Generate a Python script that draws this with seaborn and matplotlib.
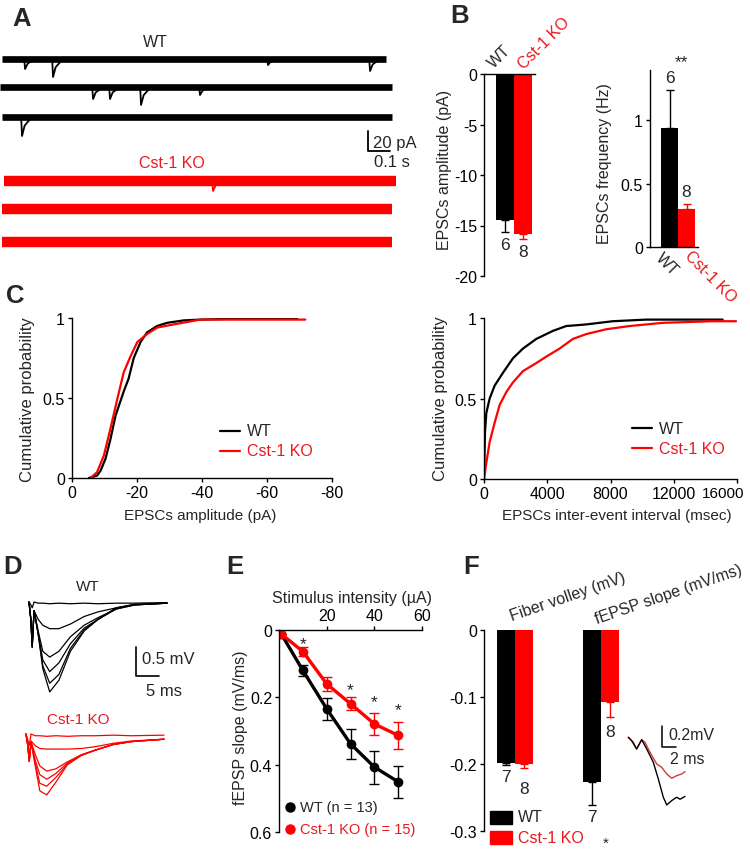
import matplotlib
matplotlib.use("Agg")
import matplotlib.pyplot as plt
from matplotlib.patches import Rectangle
from matplotlib.transforms import ScaledTranslation
import pandas as pd
import seaborn as sns

sns.set_theme(style="ticks")
plt.rcParams["font.family"] = ["Liberation Sans", "DejaVu Sans"]
plt.rcParams.update({
    "font.size": 11.5,
    "axes.unicode_minus": False,
    "axes.linewidth": 1.0,
    "axes.edgecolor": "black",
    "axes.facecolor": "none",
    "xtick.major.size": 3,
    "ytick.major.size": 3,
    "xtick.major.width": 1.0,
    "ytick.major.width": 1.0,
    "xtick.major.pad": 2,
    "ytick.major.pad": 2,
    "xtick.labelsize": 11.5,
    "ytick.labelsize": 11.5,
    "xtick.color": "black",
    "ytick.color": "black",
})

W, H = 750, 853
BLACK = "black"
RED = "#ff0000"
RED_TXT = "#e8191f"
genotypes = ["WT", "Cst-1 KO"]

# ---------------- data ----------------
# A: sEPSC sweeps, events as (time s, amplitude pA)
wt_events = [[(0.105, 10), (0.232, 18), (1.209, 6), (1.673, 12)],
             [(0.414, 12), (0.491, 12), (0.632, 18), (0.900, 8)],
             [(0.091, 19)]]
ko_events = [[(0.959, 10)], [], []]
wt_span = [(0.0, 1.745), (-0.009, 1.773), (0.0, 1.773)]
ko_span = [(0.009, 1.791), (0.0, 1.773), (0.0, 1.773)]

# B: mean +/- sem
amp_mean = [-14.5, -15.8]
amp_sem = [1.1, 0.5]
amp_n = [6, 8]
freq_mean = [0.94, 0.30]
freq_sem = [0.30, 0.04]
freq_n = [6, 8]

# C: cumulative distributions
c_amp_wt = [-5.2, -7.7, -8.8, -10.3, -11.8, -13.4, -15.9, -17.4, -19.0, -21.1, -23.1,
            -26.2, -29.3, -34.4, -39.5, -49.8, -69.3]
c_amp_wt_p = [0, 0.015, 0.046, 0.12, 0.24, 0.39, 0.54, 0.62, 0.75, 0.85, 0.91,
              0.95, 0.97, 0.985, 0.99, 0.995, 1.0]
c_amp_ko = [-5.7, -7.7, -9.8, -11.8, -13.9, -15.9, -18.0, -20.1, -23.1, -26.2, -31.3,
            -39.5, -71.8]
c_amp_ko_p = [0, 0.036, 0.14, 0.306, 0.49, 0.66, 0.76, 0.85, 0.90, 0.94, 0.96, 0.99, 0.99]
c_iei_wt = [0, 63, 147, 358, 674, 1200, 1832, 2463, 3305, 4358, 5200, 6463, 8147,
            10253, 15095]
c_iei_wt_p = [0, 0.29, 0.41, 0.50, 0.58, 0.66, 0.75, 0.81, 0.87, 0.92, 0.95, 0.96,
              0.98, 0.99, 0.99]
c_iei_ko = [0, 147, 358, 674, 989, 1411, 1832, 2463, 3305, 3937, 4779, 5621, 6463,
            7726, 9200, 11305, 14463, 15937]
c_iei_ko_p = [0, 0.10, 0.23, 0.35, 0.46, 0.54, 0.60, 0.67, 0.72, 0.76, 0.81, 0.87,
              0.90, 0.93, 0.95, 0.97, 0.98, 0.98]

# D: evoked fEPSP traces (ms, mV)
d_time = [0, 0.4, 0.7, 1.1, 2, 3, 4.5, 6.5, 9, 12, 15, 19, 23, 30]
d_wt = [
    [0, -0.05, -0.10, 0, -0.02, -0.02, -0.03, -0.02, -0.03, -0.02, -0.03, -0.02, -0.02, -0.01],
    [0, -0.30, -0.70, -0.15, -0.30, -0.40, -0.46, -0.46, -0.38, -0.25, -0.17, -0.10, -0.05, -0.02],
    [0, -0.30, -0.75, -0.15, -0.50, -0.85, -0.95, -0.85, -0.60, -0.40, -0.27, -0.12, -0.05, -0.02],
    [0, -0.30, -0.78, -0.15, -0.55, -1.00, -1.20, -1.05, -0.72, -0.45, -0.30, -0.12, -0.05, -0.02],
    [0, -0.30, -0.78, -0.15, -0.55, -1.10, -1.40, -1.25, -0.80, -0.48, -0.30, -0.10, -0.04, -0.02],
    [0, -0.30, -0.78, -0.15, -0.55, -1.15, -1.55, -1.35, -0.85, -0.50, -0.30, -0.10, -0.04, -0.02],
]
d_ko = [
    [0, -0.10, -0.20, 0, -0.03, -0.03, -0.04, -0.03, -0.04, -0.03, -0.03, -0.02, -0.03, -0.02],
    [0, -0.20, -0.45, -0.12, -0.20, -0.25, -0.26, -0.26, -0.26, -0.25, -0.22, -0.16, -0.12, -0.09],
    [0, -0.20, -0.47, -0.14, -0.35, -0.55, -0.64, -0.60, -0.48, -0.36, -0.28, -0.18, -0.13, -0.09],
    [0, -0.20, -0.47, -0.14, -0.45, -0.70, -0.78, -0.68, -0.50, -0.36, -0.28, -0.18, -0.13, -0.09],
    [0, -0.20, -0.47, -0.14, -0.50, -0.85, -0.90, -0.75, -0.52, -0.37, -0.28, -0.18, -0.13, -0.09],
    [0, -0.20, -0.47, -0.14, -0.55, -0.98, -1.05, -0.83, -0.53, -0.37, -0.28, -0.18, -0.13, -0.09],
]

# E: input-output curve
stim = [1, 10, 20, 30, 40, 50]
wt_slope = [0.012, 0.12, 0.234, 0.338, 0.407, 0.451]
wt_slope_sem = [0.0, 0.016, 0.032, 0.044, 0.049, 0.048]
ko_slope = [0.012, 0.064, 0.16, 0.219, 0.279, 0.313]
ko_slope_sem = [0.0, 0.013, 0.021, 0.019, 0.032, 0.040]
star_stim = [10, 30, 40, 50]
star_y = [0.029, 0.165, 0.199, 0.224]

# F: fiber volley and fEPSP slope
f_measures = ["Fiber volley (mV)", "fEPSP slope (mV/ms)"]
fv_mean = [-0.199, -0.200]
fv_sem = [0.003, 0.006]
sl_mean = [-0.227, -0.108]
sl_sem = [0.034, 0.022]
f_n = [7, 8, 7, 8]
f_t_wt = [0, 0.48, 1.19, 1.91, 2.63, 3.57, 4.29, 5.0, 5.49, 6.2, 6.91, 7.39, 8.1]
f_v_wt = [0, -0.032, -0.111, -0.023, -0.111, -0.238, -0.397, -0.571, -0.644, -0.603,
          -0.571, -0.59, -0.563]
f_t_ko = [0, 0.71, 1.19, 1.91, 2.39, 3.1, 4.06, 4.77, 5.49, 6.2, 6.91, 7.63, 8.1]
f_v_ko = [0, -0.048, -0.111, -0.023, -0.048, -0.143, -0.254, -0.286, -0.349, -0.39,
          -0.365, -0.349, -0.327]

# ---------------- layout helpers ----------------
fig = plt.figure(figsize=(W / 100, H / 100), dpi=100)


def px_axes(l, t, r, b):
    return fig.add_axes([l / W, 1 - b / H, (r - l) / W, (b - t) / H])


def data_axes(ox, oy, sx, sy, l, t, r, b):
    ax = px_axes(l, t, r, b)
    ax.set_xlim((l - ox) / sx, (r - ox) / sx)
    ax.set_ylim((oy - b) / sy, (oy - t) / sy)
    ax.set_axis_off()
    return ax


def keep_spines(ax, sides):
    for s in ["left", "right", "top", "bottom"]:
        ax.spines[s].set_visible(s in sides)


# ---------------- A ----------------
axA = data_axes(2, 60, 220, 1, 0, 30, 400, 262)
wt_off = [0, -28, -58]
ko_off = [-122, -150, -183]
for spans, offs, evs, col, lw in [(wt_span, wt_off, wt_events, BLACK, 4.8),
                                   (ko_span, ko_off, ko_events, RED, 7.5)]:
    for span, off, ev in zip(spans, offs, evs):
        axA.plot(span, [off, off], color=col, lw=lw, solid_capstyle="butt")
        for t, a in ev:
            axA.plot([t - 0.004, t, t + 0.012, t + 0.045],
                     [off, off - a, off - 0.45 * a, off], color=col, lw=1.3)
axA.plot([1.6636, 1.6636, 1.7636], [-72, -92, -92], color=BLACK, lw=1.3)
axA.text(1.686, -84, "20 pA", ha="left", va="center", fontsize=12)
axA.text(1.69, -103, "0.1 s", ha="left", va="center", fontsize=12)

# ---------------- B ----------------
axB1 = px_axes(484, 75, 535, 277)
sns.barplot(x=genotypes, y=amp_mean, hue=genotypes, palette=[BLACK, RED],
            width=1.0, saturation=1, linewidth=0, legend=False, ax=axB1)
for i, (m, s, col) in enumerate(zip(amp_mean, amp_sem, [BLACK, RED])):
    axB1.errorbar(i, m, yerr=[[s], [0]], fmt="none", ecolor=col, elinewidth=1,
                  capsize=3, capthick=1)
    axB1.text(i, m - s - 0.55, str(amp_n[i]), ha="center", va="top", fontsize=12.5)
axB1.set_xlim(-1.167, 1.667)
axB1.set_ylim(-20, 0)
axB1.set_xticks([])
axB1.set_yticks([0, -5, -10, -15, -20])
axB1.set_yticklabels(["0", "-5", "-10", "-15", "-20"])
keep_spines(axB1, ["left", "top"])

axB2 = px_axes(650, 71, 698, 248)
sns.barplot(x=genotypes, y=freq_mean, hue=genotypes, palette=[BLACK, RED],
            width=1.0, saturation=1, linewidth=0, legend=False, ax=axB2)
for i, (m, s, col) in enumerate(zip(freq_mean, freq_sem, [BLACK, RED])):
    axB2.errorbar(i, m, yerr=[[0], [s]], fmt="none", ecolor=col, elinewidth=1,
                  capsize=3, capthick=1)
    axB2.text(i, m + s + 0.035, str(freq_n[i]), ha="center", va="bottom", fontsize=12.5)
axB2.set_xlim(-1.147, 1.676)
axB2.set_ylim(0, 1.394)
axB2.set_xticks([])
axB2.set_yticks([0, 0.5, 1])
axB2.set_yticklabels(["0", "0.5", "1"])
keep_spines(axB2, ["left", "bottom"])

# ---------------- C ----------------
axC1 = px_axes(72, 319, 332, 479)
sns.lineplot(x=c_amp_wt, y=c_amp_wt_p, color=BLACK, lw=1.6, sort=False, ax=axC1)
sns.lineplot(x=c_amp_ko, y=c_amp_ko_p, color=RED, lw=1.6, sort=False, ax=axC1)
axC1.set_xlim(0, -80)
axC1.set_ylim(0, 1)
axC1.set_xticks([0, -20, -40, -60, -80])
axC1.set_xticklabels(["0", "-20", "-40", "-60", "-80"])
axC1.set_yticks([0, 0.5, 1])
axC1.set_yticklabels(["0", "0.5", "1"])
keep_spines(axC1, ["left", "bottom"])

axC2 = px_axes(484, 319, 737, 480)
sns.lineplot(x=c_iei_wt, y=c_iei_wt_p, color=BLACK, lw=1.6, sort=False, ax=axC2)
sns.lineplot(x=c_iei_ko, y=c_iei_ko_p, color=RED, lw=1.6, sort=False, ax=axC2)
axC2.set_xlim(0, 16000)
axC2.set_ylim(0, 1)
axC2.set_xticks([0, 4000, 8000, 12000, 16000])
axC2.set_xticklabels(["0", "4000", "8000", "12000", "16000"])
axC2.set_yticks([0, 0.5, 1])
axC2.set_yticklabels(["0", "0.5", "1"])
keep_spines(axC2, ["left", "bottom"])
last = axC2.get_xticklabels()[-1]
last.set_fontsize(11)
last.set_transform(last.get_transform() + ScaledTranslation(-14 / 100, 0, fig.dpi_scale_trans))

# ---------------- D ----------------
axD1 = data_axes(29, 603, 4.6, 58, 25, 588, 175, 705)
for v in d_wt:
    axD1.plot(d_time, v, color=BLACK, lw=0.9)
axD2 = data_axes(26, 735, 4.6, 58, 22, 720, 172, 805)
for v in d_ko:
    axD2.plot(d_time, v, color=RED, lw=0.9)
# scale bar (0.5 mV / 5 ms) in WT trace units
sx0 = (136 - 29) / 4.6
axD1.plot([sx0, sx0, sx0 + 5], [-0.78, -1.28, -1.28], color=BLACK, lw=1.2)

# ---------------- E ----------------
axE = px_axes(279, 631, 422, 833)
sns.lineplot(x=stim, y=wt_slope, color=BLACK, lw=2.4, marker="o", markersize=7,
             markeredgewidth=0, ax=axE)
axE.errorbar(stim, wt_slope, yerr=wt_slope_sem, fmt="none", ecolor=BLACK,
             elinewidth=1, capsize=3.5, capthick=1)
sns.lineplot(x=stim, y=ko_slope, color=RED, lw=2.4, marker="o", markersize=7,
             markeredgewidth=0, ax=axE)
axE.errorbar(stim, ko_slope, yerr=ko_slope_sem, fmt="none", ecolor=RED,
             elinewidth=1, capsize=3.5, capthick=1)
for xs, ys in zip(star_stim, star_y):
    axE.text(xs, ys + 0.026, "*", ha="center", va="baseline", fontsize=12.5, color="#222222")
axE.set_xlim(0, 60)
axE.set_ylim(0.6, 0)
axE.xaxis.tick_top()
axE.set_xticks([20, 40, 60])
axE.set_xticklabels(["20", "40", "60"])
axE.set_yticks([0, 0.2, 0.4, 0.6])
axE.set_yticklabels(["0", "0.2", "0.4", "0.6"])
keep_spines(axE, ["left", "top"])

# ---------------- F ----------------
f_df = pd.DataFrame({
    "measure": [f_measures[0]] * 2 + [f_measures[1]] * 2,
    "genotype": genotypes * 2,
    "value": fv_mean + sl_mean,
})
f_err = fv_sem + sl_sem
axF = px_axes(484, 631, 660, 832)
sns.barplot(data=f_df, x="measure", y="value", hue="genotype", order=f_measures,
            hue_order=genotypes, palette=[BLACK, RED], width=0.419, saturation=1,
            linewidth=0, legend=False, ax=axF)
f_x = [-0.105, 0.105, 0.895, 1.105]
f_lab_y = [-0.219, -0.237, -0.279, -0.152]
for i, (x, m, s) in enumerate(zip(f_x, f_df["value"], f_err)):
    col = BLACK if i % 2 == 0 else RED
    axF.errorbar(x, m, yerr=[[s], [0]], fmt="none", ecolor=col, elinewidth=1,
                 capsize=3, capthick=1)
    axF.text(x, f_lab_y[i], str(f_n[i]), ha="center", va="center", fontsize=12.5)
axF.set_xlim(-0.3605, 1.686)
axF.set_ylim(-0.3, 0)
axF.set_xticks([])
axF.set_yticks([0, -0.1, -0.2, -0.3])
axF.set_yticklabels(["0", "-0.1", "-0.2", "-0.3"])
keep_spines(axF, ["left"])

axFi = data_axes(628.3, 738.3, 7, 105, 622, 725, 692, 812)
axFi.plot(f_t_ko, f_v_ko, color="#d23a3a", lw=1)
axFi.plot(f_t_wt, f_v_wt, color=BLACK, lw=1)

for ax in [axB1, axB2, axC1, axC2, axE, axF]:
    ax.set_xlabel("")
    ax.set_ylabel("")

# ---------------- overlay text ----------------
cv = fig.add_axes([0, 0, 1, 1], zorder=10)
cv.set_xlim(0, W)
cv.set_ylim(H, 0)
cv.set_axis_off()

for lab, x, y in [("A", 22, 19), ("B", 460, 16), ("C", 15, 296), ("D", 13, 567),
                  ("E", 235, 567), ("F", 471, 567)]:
    cv.text(x, y, lab, ha="center", va="center", fontsize=18.5, fontweight="bold")

cv.text(155, 42, "WT", ha="center", va="center", fontsize=11.5)
cv.text(172, 163, "Cst-1 KO", ha="center", va="center", fontsize=11.5, color=RED_TXT)

kw = dict(ha="center", va="center", rotation_mode="anchor", fontsize=11.5)
cv.text(500, 57, "WT", rotation=45, **kw)
cv.text(544, 44, "Cst-1 KO", rotation=45, color=RED_TXT, **kw)
cv.text(667, 265, "WT", rotation=-45, **kw)
cv.text(710, 277, "Cst-1 KO", rotation=-45, color=RED_TXT, **kw)
cv.text(681, 63, "**", ha="center", va="center", fontsize=12.5)
cv.text(445, 170, "EPSCs amplitude (pA)", rotation=90, ha="center", va="center", fontsize=11.5)
cv.text(605, 164, "EPSCs frequency (Hz)", rotation=90, ha="center", va="center", fontsize=11.5)

cv.text(28, 400, "Cumulative probability", rotation=90, ha="center", va="center", fontsize=12)
cv.text(440, 399, "Cumulative probability", rotation=90, ha="center", va="center", fontsize=12)
cv.text(200, 516, "EPSCs amplitude (pA)", ha="center", va="center", fontsize=11)
cv.text(617, 516, "EPSCs inter-event interval (msec)", ha="center", va="center", fontsize=11)
for x0, y0 in [(220, 432), (632, 429)]:
    cv.plot([x0, x0 + 20], [y0, y0], color=BLACK, lw=1.6)
    cv.plot([x0, x0 + 20], [y0 + 20, y0 + 20], color=RED, lw=1.6)
    cv.text(x0 + 27, y0, "WT", ha="left", va="center", fontsize=11.5)
    cv.text(x0 + 27, y0 + 20, "Cst-1 KO", ha="left", va="center", fontsize=11.5, color=RED_TXT)

cv.text(88, 587, "WT", ha="center", va="center", fontsize=11)
cv.text(78, 720, "Cst-1 KO", ha="center", va="center", fontsize=11, color=RED_TXT)
cv.text(142, 660, "0.5 mV", ha="left", va="center", fontsize=12)
cv.text(164, 692, "5 ms", ha="center", va="center", fontsize=12)

cv.text(352, 599, "Stimulus intensity (\u00b5A)", ha="center", va="center", fontsize=11.5)
cv.text(240, 728, "fEPSP slope (mV/ms)", rotation=90, ha="center", va="center", fontsize=11.5)
cv.plot([290], [808], "o", color=BLACK, ms=6.5)
cv.plot([290], [830], "o", color=RED, ms=6.5)
cv.text(300, 808, "WT (n = 13)", ha="left", va="center", fontsize=10.5)
cv.text(300, 830, "Cst-1 KO (n = 15)", ha="left", va="center", fontsize=10.5, color=RED_TXT)

cv.text(568, 597, "Fiber volley (mV)", rotation=19, ha="center", va="center",
        rotation_mode="anchor", fontsize=11.5)
cv.text(669, 595, "fEPSP slope (mV/ms)", rotation=19, ha="center", va="center",
        rotation_mode="anchor", fontsize=11.5)
cv.add_patch(Rectangle((490, 812), 22, 13, color=BLACK))
cv.add_patch(Rectangle((490, 832), 22, 13, color=RED))
cv.text(518, 818, "WT", ha="left", va="center", fontsize=11.5)
cv.text(518, 839, "Cst-1 KO", ha="left", va="center", fontsize=11.5, color=RED_TXT)
cv.text(606, 844, "*", ha="center", va="center", fontsize=11)
cv.plot([662, 662, 676], [727, 748, 748], color=BLACK, lw=1.1)
cv.text(668, 735, "0.2mV", ha="left", va="center", fontsize=11.5)
cv.text(670, 760, "2 ms", ha="left", va="center", fontsize=11.5)

fig.savefig("out.png", dpi=100)
